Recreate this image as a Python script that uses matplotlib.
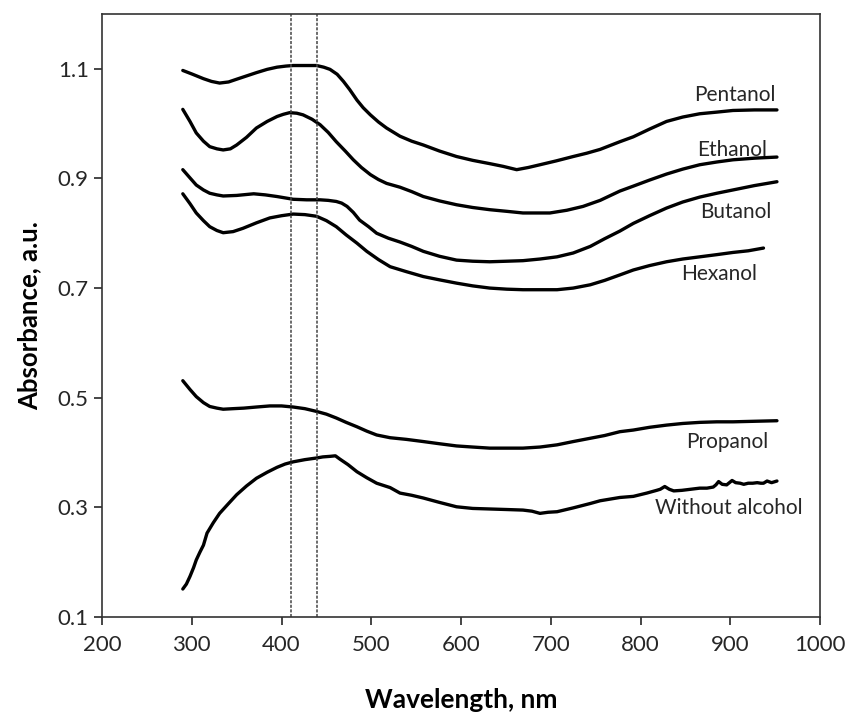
import numpy as np
import matplotlib.pyplot as plt

plt.rcParams['font.family'] = ['Lato', 'DejaVu Sans']

# wavelength (nm) / absorbance points
pent_x = [290, 301, 313, 322, 331, 341, 350, 361, 372, 384, 395, 405, 413, 426, 439, 447, 454, 462, 469, 476, 484, 491, 499, 508, 517, 532, 545, 558, 576, 595, 613, 632, 647, 662, 675, 688, 706, 725, 740, 755, 777, 792, 810, 829, 847, 866, 885, 903, 927, 952]
pent_y = [1.097, 1.090, 1.082, 1.077, 1.074, 1.076, 1.081, 1.087, 1.093, 1.099, 1.103, 1.105, 1.106, 1.106, 1.106, 1.103, 1.099, 1.090, 1.077, 1.062, 1.043, 1.029, 1.016, 1.003, 0.992, 0.977, 0.968, 0.961, 0.950, 0.940, 0.933, 0.927, 0.922, 0.916, 0.920, 0.925, 0.932, 0.940, 0.946, 0.953, 0.967, 0.976, 0.990, 1.004, 1.012, 1.018, 1.021, 1.024, 1.025, 1.025]

eth_x = [290, 298, 305, 313, 320, 328, 335, 343, 350, 361, 372, 384, 395, 402, 409, 417, 424, 434, 443, 452, 461, 471, 480, 489, 499, 508, 517, 532, 545, 558, 576, 595, 613, 632, 651, 669, 684, 699, 718, 736, 755, 777, 792, 810, 829, 847, 866, 885, 903, 927, 952]
eth_y = [1.026, 1.004, 0.983, 0.968, 0.958, 0.954, 0.952, 0.954, 0.961, 0.975, 0.992, 1.004, 1.013, 1.017, 1.020, 1.019, 1.016, 1.008, 0.998, 0.984, 0.967, 0.950, 0.934, 0.920, 0.907, 0.898, 0.891, 0.884, 0.876, 0.867, 0.859, 0.852, 0.847, 0.843, 0.840, 0.837, 0.837, 0.837, 0.842, 0.849, 0.860, 0.877, 0.886, 0.897, 0.908, 0.917, 0.925, 0.930, 0.934, 0.937, 0.939]

but_x = [290, 298, 305, 313, 320, 328, 335, 350, 369, 382, 395, 413, 428, 443, 452, 461, 467, 473, 480, 487, 497, 506, 519, 532, 545, 558, 576, 595, 613, 632, 651, 669, 688, 707, 725, 744, 760, 777, 792, 810, 829, 847, 866, 885, 903, 927, 952]
but_y = [0.916, 0.901, 0.888, 0.879, 0.873, 0.870, 0.868, 0.869, 0.872, 0.870, 0.867, 0.862, 0.861, 0.861, 0.860, 0.858, 0.855, 0.849, 0.838, 0.824, 0.812, 0.800, 0.791, 0.784, 0.776, 0.767, 0.758, 0.751, 0.749, 0.748, 0.749, 0.750, 0.753, 0.757, 0.764, 0.776, 0.790, 0.804, 0.818, 0.832, 0.846, 0.857, 0.866, 0.873, 0.879, 0.887, 0.894]

hex_x = [290, 298, 305, 313, 320, 328, 335, 346, 357, 372, 387, 400, 413, 426, 439, 450, 461, 472, 484, 495, 508, 521, 539, 558, 576, 595, 613, 632, 651, 669, 688, 707, 725, 744, 760, 777, 792, 810, 829, 847, 866, 885, 903, 920, 937]
hex_y = [0.872, 0.854, 0.837, 0.823, 0.812, 0.805, 0.801, 0.803, 0.809, 0.819, 0.828, 0.832, 0.835, 0.834, 0.831, 0.823, 0.812, 0.797, 0.782, 0.767, 0.752, 0.739, 0.730, 0.721, 0.715, 0.709, 0.704, 0.700, 0.698, 0.697, 0.697, 0.697, 0.700, 0.706, 0.714, 0.724, 0.733, 0.741, 0.748, 0.753, 0.757, 0.761, 0.765, 0.768, 0.773]

prop_x = [290, 298, 305, 313, 320, 328, 335, 346, 358, 372, 387, 400, 413, 426, 439, 450, 461, 472, 484, 495, 506, 521, 539, 558, 576, 595, 613, 632, 651, 669, 688, 707, 725, 744, 760, 777, 792, 810, 829, 847, 866, 885, 903, 927, 952]
prop_y = [0.531, 0.515, 0.502, 0.491, 0.484, 0.481, 0.479, 0.480, 0.481, 0.483, 0.485, 0.485, 0.483, 0.480, 0.475, 0.470, 0.463, 0.455, 0.447, 0.439, 0.432, 0.427, 0.424, 0.420, 0.416, 0.412, 0.410, 0.408, 0.408, 0.408, 0.410, 0.414, 0.420, 0.426, 0.431, 0.438, 0.441, 0.446, 0.450, 0.453, 0.455, 0.456, 0.456, 0.457, 0.458]

wo_x = [290, 294, 298, 302, 305, 309, 313, 317, 324, 331, 341, 350, 361, 372, 384, 395, 404, 413, 426, 439, 446, 454, 460, 465, 474, 484, 495, 506, 521, 532, 545, 558, 576, 595, 613, 632, 651, 669, 679, 688, 697, 707, 725, 744, 755, 777, 792, 807, 818, 822, 827, 832, 837, 846, 856, 866, 874, 881, 884, 887, 891, 896, 899, 902, 906, 911, 915, 920, 925, 930, 934, 937, 941, 946, 952]
wo_y = [0.151, 0.160, 0.174, 0.190, 0.204, 0.218, 0.231, 0.253, 0.272, 0.289, 0.307, 0.323, 0.339, 0.353, 0.364, 0.373, 0.379, 0.383, 0.387, 0.390, 0.392, 0.393, 0.394, 0.388, 0.378, 0.365, 0.354, 0.344, 0.336, 0.326, 0.322, 0.317, 0.309, 0.301, 0.298, 0.297, 0.296, 0.295, 0.293, 0.289, 0.291, 0.292, 0.299, 0.307, 0.312, 0.318, 0.320, 0.326, 0.331, 0.333, 0.338, 0.333, 0.330, 0.331, 0.333, 0.335, 0.335, 0.337, 0.341, 0.347, 0.342, 0.341, 0.345, 0.349, 0.345, 0.344, 0.342, 0.344, 0.344, 0.345, 0.344, 0.344, 0.348, 0.345, 0.348]

curves = [(pent_x, pent_y), (eth_x, eth_y), (but_x, but_y),
          (hex_x, hex_y), (prop_x, prop_y), (wo_x, wo_y)]

labels = ["Pentanol", "Ethanol", "Butanol", "Hexanol", "Propanol", "Without alcohol"]
label_pos = [(950, 1.053), (941, 0.952), (946, 0.839), (930, 0.726), (943, 0.419), (981, 0.299)]

marker_lines = [411, 439]

fig = plt.figure(figsize = (8.46, 7.14), dpi = 100)
ax = fig.add_axes([0.1206, 0.1359, 0.8487, 0.8445])

for x, y in curves:
    ax.plot(x, y, color = "black", linewidth = 2.4, solid_joinstyle = "round", solid_capstyle = "round")

for xv in marker_lines:
    ax.axvline(xv, color = "#444444", linestyle = (0, (2, 1)), linewidth = 1.1)

for text, (tx, ty) in zip(labels, label_pos):
    ax.text(tx, ty, text, ha = "right", va = "center", fontsize = 15, color = "#262626")

ax.set_xlim(200, 1000)
ax.set_ylim(0.1, 1.2)
ax.set_xticks(np.arange(200, 1001, 100))
ax.set_yticks([0.1, 0.3, 0.5, 0.7, 0.9, 1.1])
ax.set_yticklabels(["0.1", "0.3", "0.5", "0.7", "0.9", "1.1"])
ax.tick_params(direction = "out", length = 6, width = 1.2, labelsize = 16, colors = "#262626")
ax.tick_params(axis = "x", pad = 7)
for s in ax.spines.values():
    s.set_linewidth(1.2)
    s.set_color("#333333")

ax.set_xlabel("Wavelength, nm", fontsize = 19, fontweight = "bold", labelpad = 24)
ax.set_ylabel("Absorbance, a.u.", fontsize = 18.5, fontweight = "bold", labelpad = 12)

fig.savefig("out.png", dpi = 100)
